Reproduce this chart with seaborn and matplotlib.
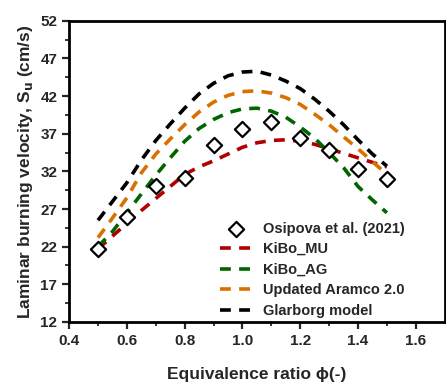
import numpy as np
import pandas as pd
import matplotlib
matplotlib.use("Agg")
import matplotlib.pyplot as plt
import seaborn as sns

# experimental data (Osipova et al. 2021)
phi_exp = [0.5, 0.6, 0.7, 0.8, 0.9, 1.0, 1.1, 1.2, 1.3, 1.4, 1.5]
su_exp = [21.7, 26.0, 30.1, 31.1, 35.5, 37.6, 38.5, 36.4, 34.9, 32.3, 31.0]

# model predictions
phi_mod = [0.5, 0.55, 0.6, 0.65, 0.7, 0.75, 0.8, 0.85, 0.9, 0.95, 1.0,
           1.05, 1.1, 1.15, 1.2, 1.25, 1.3, 1.35, 1.4, 1.45, 1.5]
su_kibo_mu = [21.7, 23.4, 25.1, 26.8, 28.4, 30.0, 31.6, 32.6, 33.4, 34.3, 35.2,
              35.8, 36.1, 36.2, 36.0, 35.6, 35.0, 34.4, 33.8, 33.2, 32.6]
su_kibo_ag = [22.0, 24.0, 26.5, 29.0, 31.5, 33.8, 36.0, 37.7, 38.9, 39.8, 40.3,
              40.4, 40.0, 39.2, 37.9, 36.4, 34.5, 32.5, 30.0, 28.2, 26.5]
su_aramco = [23.2, 25.8, 28.5, 31.8, 34.3, 36.3, 38.2, 39.9, 41.2, 42.1, 42.6,
             42.7, 42.4, 41.8, 40.9, 39.6, 38.2, 36.6, 35.0, 33.3, 31.6]
su_glarborg = [25.5, 28.0, 30.5, 33.5, 36.1, 38.3, 40.4, 42.3, 43.7, 44.7, 45.2,
               45.3, 44.8, 44.0, 43.0, 41.6, 40.0, 38.2, 36.2, 34.3, 32.7]

models = ["KiBo_MU", "KiBo_AG", "Updated Aramco 2.0", "Glarborg model"]
colors = ["#b00000", "#006400", "#d97000", "black"]

df = pd.DataFrame({
    "phi": phi_mod * 4,
    "su": su_kibo_mu + su_kibo_ag + su_aramco + su_glarborg,
    "model": np.repeat(models, len(phi_mod)),
})
exp = pd.DataFrame({"phi": phi_exp, "su": su_exp})

sns.set_style("ticks")
plt.rcParams["font.family"] = ["Liberation Sans", "DejaVu Sans"]
plt.rcParams["font.weight"] = "bold"
plt.rcParams["path.simplify"] = False
plt.rcParams["lines.dash_capstyle"] = "butt"

fig = plt.figure(figsize=(4.46, 3.86), dpi=100)
ax = fig.add_axes([0.155, 0.166, 0.842, 0.780])

sns.scatterplot(data=exp, x="phi", y="su", marker="D", s=60, color="white",
                edgecolor="black", linewidth=1.6, zorder=3,
                label="Osipova et al. (2021)", ax=ax)
# dashed model curves
for m, c in zip(models, colors):
    sns.lineplot(data=df[df["model"] == m], x="phi", y="su", color=c,
                 errorbar=None, linewidth=2.6, linestyle=(0, (3.0, 2.3)),
                 dash_capstyle="butt", label=m, ax=ax, zorder=2)

ax.set_xlim(0.4, 1.7)
ax.set_ylim(12, 52)
ax.set_xticks([0.4, 0.6, 0.8, 1.0, 1.2, 1.4, 1.6])
ax.set_xticklabels(["0.4", "0.6", "0.8", "1.0", "1.2", "1.4", "1.6"])
ax.set_xticks(np.arange(0.5, 1.7, 0.2), minor=True)
ax.set_yticks(np.arange(12, 53, 5))
ax.set_yticks(np.arange(14.5, 52, 5), minor=True)
ax.tick_params(which="major", length=5, width=1.6, labelsize=11, direction="out")
ax.tick_params(which="minor", length=3, width=1.3, direction="out")
for s in ax.spines.values():
    s.set_linewidth(2)
    s.set_color("black")
for lab in ax.get_xticklabels() + ax.get_yticklabels():
    lab.set_fontweight("bold")

ax.set_xlabel("Equivalence ratio \u03d5(-)", fontsize=12.5, fontweight="bold", labelpad=14)
ax.set_ylabel("Laminar burning velocity, S$_\\mathbf{u}$ (cm/s)", fontsize=12.5,
              fontweight="bold", labelpad=4)

h, l = ax.get_legend_handles_labels()
leg = ax.legend(h, l, loc="lower right", bbox_to_anchor=(0.93, -0.03), frameon=False,
                fontsize=10.5, handlelength=2.2, labelspacing=0.45, handletextpad=0.8)
for t in leg.get_texts():
    t.set_fontweight("bold")

fig.savefig("out.png", dpi=100)
